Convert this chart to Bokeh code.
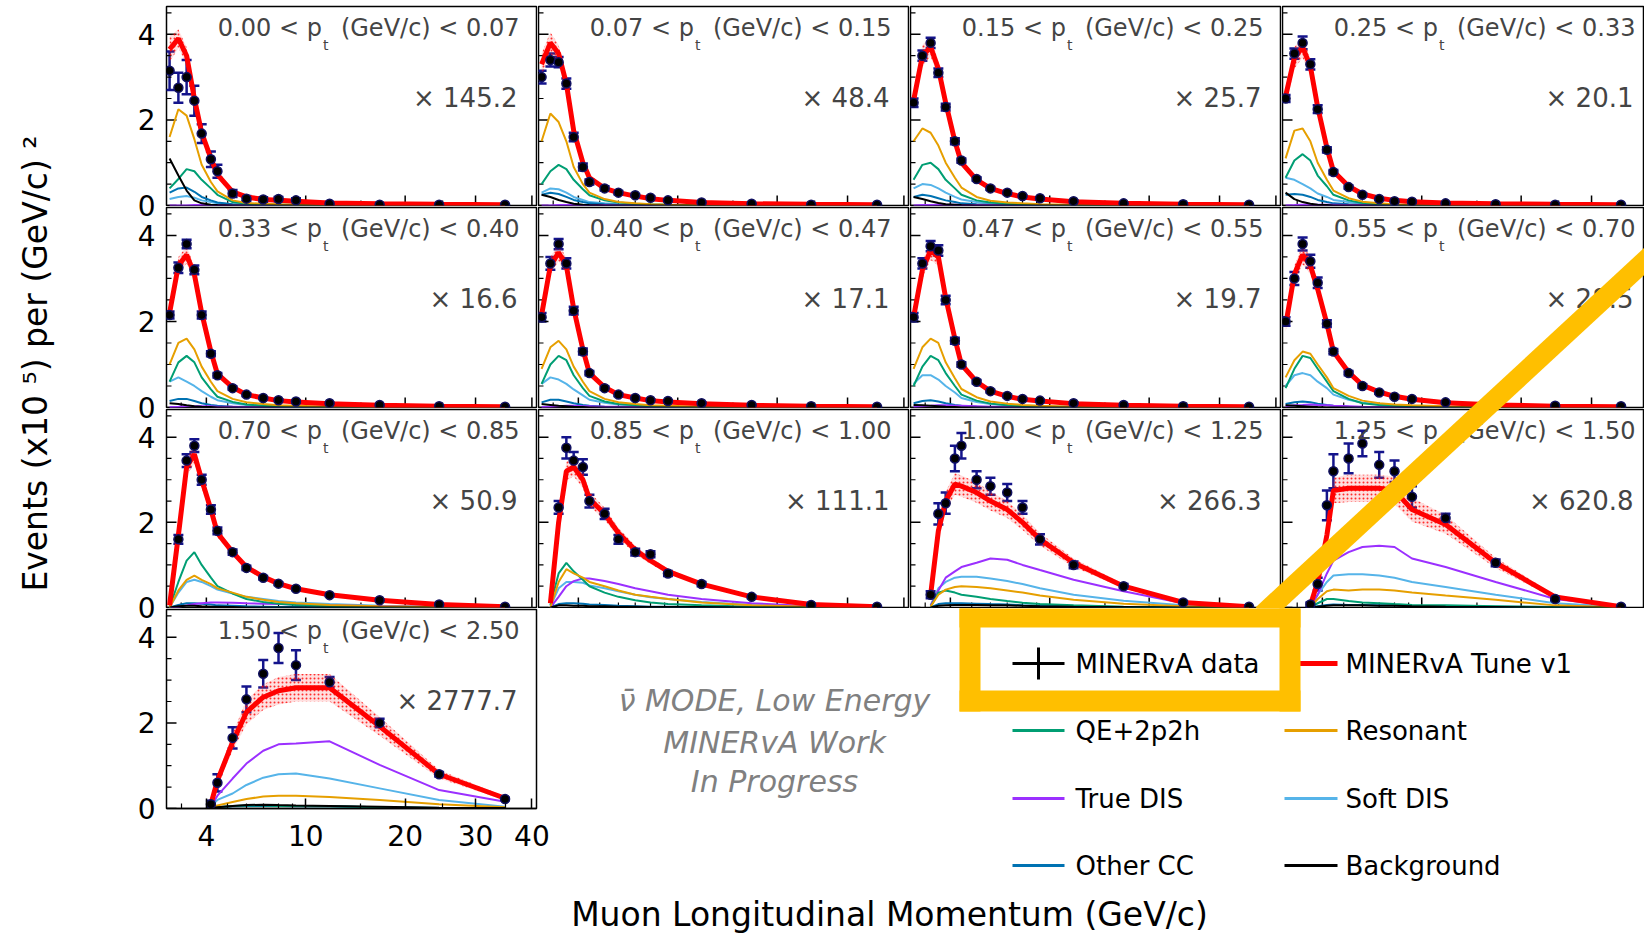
import math
import numpy as np
from bokeh.plotting import figure
from bokeh.layouts import row, column
from bokeh.models import (Range1d, FixedTicker, Label, Whisker, ColumnDataSource,
                          TeeHead, CustomJSTickFormatter)
from bokeh.embed import file_html
from bokeh.resources import INLINE

N = None
# ---------------- data ----------------
PZ_CENTERS = [2.6, 2.9, 3.2, 3.5, 3.8, 4.2, 4.5, 5.25, 6.0, 7.0, 8.0, 9.25, 12.0, 17.0, 24.5, 35.0]
X_TICKS = [4, 10, 20, 30, 40]
X_TICK_LABELS = ["4", "10", "20", "30", "40"]
X_MINOR = [3, 5, 6, 7, 8, 9, 15, 25, 35]
Y_TICKS = [0, 2, 4]
Y_TICK_LABELS = ["0", "2", "4"]
Y_MINOR = [0.5, 1, 1.5, 2.5, 3, 3.5, 4.5]
PZ_AXIS_MIN, PZ_AXIS_MAX = 2.5, 40.9
Y_MAX = 4.65

PT_LOW = ["0.00", "0.07", "0.15", "0.25", "0.33", "0.40", "0.47", "0.55", "0.70", "0.85", "1.00", "1.25", "1.50"]
PT_HIGH = ["0.07", "0.15", "0.25", "0.33", "0.40", "0.47", "0.55", "0.70", "0.85", "1.00", "1.25", "1.50", "2.50"]
SCALE_FACTORS = ["145.2", "48.4", "25.7", "20.1", "16.6", "17.1", "19.7", "28.5", "50.9", "111.1", "266.3", "620.8", "2777.7"]

DATA = [
    [3.15, 2.75, 3.0, 2.45, 1.68, 1.08, 0.8, 0.28, 0.16, 0.14, 0.15, 0.12, 0.04, 0.02, 0.02, 0.02],
    [3.0, 3.4, 3.35, 2.85, 1.6, 0.9, 0.55, 0.4, 0.3, 0.24, 0.18, 0.12, 0.07, 0.04, 0.02, 0.02],
    [2.4, 3.5, 3.8, 3.1, 2.3, 1.5, 1.05, 0.62, 0.4, 0.3, 0.22, 0.17, 0.1, 0.05, 0.03, 0.02],
    [2.5, 3.55, 3.8, 3.3, 2.25, 1.3, 0.78, 0.43, 0.25, 0.15, 0.1, 0.09, 0.05, 0.03, 0.02, 0.02],
    [2.15, 3.25, 3.8, 3.2, 2.15, 1.25, 0.75, 0.45, 0.3, 0.22, 0.17, 0.14, 0.1, 0.06, 0.03, 0.02],
    [2.1, 3.35, 3.8, 3.35, 2.25, 1.3, 0.8, 0.45, 0.3, 0.22, 0.17, 0.15, 0.1, 0.06, 0.03, 0.02],
    [2.1, 3.35, 3.75, 3.65, 2.5, 1.55, 1.0, 0.6, 0.38, 0.27, 0.2, 0.16, 0.1, 0.06, 0.03, 0.02],
    [2.0, 3.0, 3.8, 3.4, 2.9, 1.95, 1.3, 0.8, 0.5, 0.35, 0.25, 0.2, 0.12, 0.07, 0.04, 0.03],
    [N, 1.6, 3.45, 3.8, 3.0, 2.3, 1.8, 1.3, 0.93, 0.7, 0.56, 0.44, 0.29, 0.17, 0.07, 0.02],
    [N, N, 2.35, 3.75, 3.45, 3.3, 2.5, 2.2, 1.6, 1.3, 1.25, 0.8, 0.55, 0.25, 0.06, 0.02],
    [N, N, 0.3, 2.2, 2.45, 3.5, 3.8, 3.0, 2.85, 2.7, 2.35, 1.6, 1.0, 0.5, 0.12, 0.02],
    [N, N, N, 0.07, 0.55, 2.4, 3.2, 3.5, 3.85, 3.35, 3.2, 2.6, 2.1, 1.05, 0.2, 0.02],
    [N, N, N, N, N, 0.1, 0.6, 1.65, 2.55, 3.15, 3.75, 3.35, 2.95, 2.0, 0.8, 0.22],
]
DATA_ERR = [
    [0.45, 0.35, 0.4, 0.35, 0.22, 0.18, 0.15, 0.08, 0.06, 0.05, 0.05, 0.05, 0.02, 0.01, 0.01, 0.01],
    [0.15, 0.15, 0.12, 0.12, 0.1, 0.08, 0.06, 0.05, 0.04, 0.03, 0.03, 0.02, 0.02, 0.01, 0.01, 0.01],
    [0.1, 0.12, 0.12, 0.1, 0.08, 0.07, 0.05, 0.04, 0.03, 0.03, 0.02, 0.02, 0.02, 0.01, 0.01, 0.01],
    [0.08, 0.12, 0.15, 0.12, 0.09, 0.06, 0.05, 0.04, 0.03, 0.02, 0.02, 0.02, 0.01, 0.01, 0.01, 0.01],
    [0.08, 0.12, 0.1, 0.1, 0.08, 0.06, 0.05, 0.04, 0.03, 0.02, 0.02, 0.02, 0.01, 0.01, 0.01, 0.01],
    [0.1, 0.15, 0.12, 0.12, 0.09, 0.07, 0.05, 0.04, 0.03, 0.03, 0.02, 0.02, 0.02, 0.01, 0.01, 0.01],
    [0.1, 0.12, 0.12, 0.12, 0.1, 0.07, 0.05, 0.04, 0.03, 0.03, 0.02, 0.02, 0.02, 0.01, 0.01, 0.01],
    [0.1, 0.15, 0.15, 0.15, 0.12, 0.08, 0.06, 0.05, 0.04, 0.03, 0.03, 0.02, 0.02, 0.01, 0.01, 0.01],
    [N, 0.1, 0.15, 0.15, 0.12, 0.1, 0.08, 0.06, 0.05, 0.04, 0.03, 0.03, 0.02, 0.02, 0.01, 0.01],
    [N, N, 0.15, 0.25, 0.2, 0.18, 0.15, 0.12, 0.1, 0.08, 0.07, 0.06, 0.05, 0.03, 0.02, 0.01],
    [N, N, 0.08, 0.25, 0.25, 0.3, 0.3, 0.2, 0.2, 0.2, 0.15, 0.12, 0.08, 0.05, 0.03, 0.01],
    [N, N, N, 0.05, 0.15, 0.35, 0.4, 0.35, 0.3, 0.3, 0.25, 0.25, 0.1, 0.08, 0.05, 0.02],
    [N, N, N, N, N, 0.08, 0.2, 0.25, 0.3, 0.32, 0.35, 0.35, 0.12, 0.1, 0.05, 0.03],
]
TUNE = [
    [3.65, 3.9, 3.5, 2.5, 1.7, 1.1, 0.72, 0.32, 0.2, 0.14, 0.12, 0.1, 0.06, 0.04, 0.03, 0.02],
    [3.3, 3.8, 3.55, 2.85, 1.75, 1.0, 0.65, 0.4, 0.3, 0.22, 0.16, 0.12, 0.07, 0.04, 0.03, 0.02],
    [2.45, 3.5, 3.7, 3.2, 2.4, 1.5, 1.0, 0.6, 0.4, 0.28, 0.2, 0.15, 0.09, 0.05, 0.03, 0.02],
    [2.55, 3.45, 3.7, 3.25, 2.3, 1.35, 0.8, 0.45, 0.27, 0.17, 0.12, 0.09, 0.06, 0.04, 0.03, 0.02],
    [2.2, 3.3, 3.55, 3.1, 2.2, 1.3, 0.78, 0.47, 0.3, 0.22, 0.16, 0.13, 0.09, 0.05, 0.03, 0.02],
    [2.15, 3.3, 3.6, 3.3, 2.3, 1.35, 0.8, 0.47, 0.3, 0.22, 0.16, 0.13, 0.09, 0.05, 0.03, 0.02],
    [2.1, 3.2, 3.65, 3.5, 2.55, 1.6, 1.0, 0.6, 0.38, 0.26, 0.19, 0.15, 0.09, 0.05, 0.03, 0.02],
    [1.9, 3.1, 3.55, 3.3, 2.75, 1.95, 1.3, 0.82, 0.52, 0.36, 0.26, 0.19, 0.11, 0.06, 0.03, 0.02],
    [0.05, 1.7, 3.3, 3.6, 3.0, 2.3, 1.75, 1.3, 0.95, 0.72, 0.56, 0.44, 0.3, 0.17, 0.07, 0.02],
    [N, 0.1, 2.0, 3.2, 3.3, 3.0, 2.55, 2.2, 1.75, 1.35, 1.1, 0.85, 0.55, 0.25, 0.07, 0.02],
    [N, N, 0.3, 1.8, 2.5, 2.9, 2.85, 2.7, 2.5, 2.3, 2.0, 1.6, 1.05, 0.5, 0.12, 0.02],
    [N, N, N, 0.05, 0.6, 1.7, 2.75, 2.8, 2.8, 2.8, 2.75, 2.3, 1.95, 1.05, 0.25, 0.02],
    [N, N, N, N, N, 0.1, 0.65, 1.55, 2.25, 2.6, 2.75, 2.82, 2.82, 1.92, 0.8, 0.24],
]
TUNE_BAND = [
    [0.3, 0.22, 0.2, 0.15, 0.1, 0.07, 0.05, 0.03, 0.02, 0.02, 0.02, 0.01, 0.01, 0.01, 0.01, 0.01],
    [0.25, 0.25, 0.2, 0.15, 0.1, 0.07, 0.05, 0.03, 0.02, 0.02, 0.02, 0.01, 0.01, 0.01, 0.01, 0.01],
    [0.2, 0.25, 0.22, 0.18, 0.12, 0.08, 0.05, 0.04, 0.03, 0.02, 0.02, 0.01, 0.01, 0.01, 0.01, 0.01],
    [0.2, 0.25, 0.25, 0.18, 0.12, 0.08, 0.05, 0.03, 0.02, 0.02, 0.01, 0.01, 0.01, 0.01, 0.01, 0.01],
    [0.15, 0.2, 0.2, 0.18, 0.12, 0.08, 0.05, 0.03, 0.02, 0.02, 0.01, 0.01, 0.01, 0.01, 0.01, 0.01],
    [0.15, 0.2, 0.2, 0.18, 0.12, 0.08, 0.05, 0.03, 0.02, 0.02, 0.01, 0.01, 0.01, 0.01, 0.01, 0.01],
    [0.15, 0.2, 0.22, 0.2, 0.14, 0.09, 0.06, 0.04, 0.03, 0.02, 0.02, 0.01, 0.01, 0.01, 0.01, 0.01],
    [0.15, 0.2, 0.22, 0.2, 0.16, 0.11, 0.08, 0.05, 0.03, 0.02, 0.02, 0.02, 0.01, 0.01, 0.01, 0.01],
    [0.01, 0.12, 0.2, 0.22, 0.18, 0.14, 0.1, 0.08, 0.06, 0.05, 0.04, 0.03, 0.02, 0.01, 0.01, 0.01],
    [N, 0.02, 0.15, 0.22, 0.22, 0.2, 0.17, 0.14, 0.12, 0.1, 0.08, 0.06, 0.04, 0.02, 0.01, 0.01],
    [N, N, 0.03, 0.15, 0.22, 0.25, 0.25, 0.24, 0.22, 0.2, 0.18, 0.15, 0.1, 0.05, 0.02, 0.01],
    [N, N, N, 0.02, 0.08, 0.2, 0.3, 0.32, 0.32, 0.32, 0.32, 0.28, 0.22, 0.12, 0.04, 0.01],
    [N, N, N, N, N, 0.02, 0.1, 0.2, 0.28, 0.3, 0.32, 0.32, 0.32, 0.22, 0.1, 0.04],
]
QE_2P2H = [
    [0.4, 0.62, 0.85, 0.8, 0.6, 0.4, 0.25, 0.08, 0.04, 0.03, 0.02, 0.02, 0.01, 0.0, 0.0, 0.0],
    [0.5, 0.8, 0.95, 0.85, 0.6, 0.38, 0.24, 0.12, 0.07, 0.04, 0.03, 0.02, 0.01, 0.0, 0.0, 0.0],
    [0.6, 0.95, 1.0, 0.85, 0.6, 0.4, 0.25, 0.12, 0.07, 0.04, 0.03, 0.02, 0.01, 0.0, 0.0, 0.0],
    [0.65, 1.05, 1.2, 1.05, 0.7, 0.45, 0.25, 0.12, 0.06, 0.03, 0.02, 0.01, 0.01, 0.0, 0.0, 0.0],
    [0.6, 1.05, 1.2, 1.05, 0.7, 0.42, 0.25, 0.13, 0.07, 0.04, 0.03, 0.02, 0.01, 0.0, 0.0, 0.0],
    [0.55, 1.0, 1.2, 1.1, 0.75, 0.45, 0.27, 0.14, 0.08, 0.05, 0.03, 0.02, 0.01, 0.0, 0.0, 0.0],
    [0.5, 0.95, 1.2, 1.1, 0.8, 0.5, 0.3, 0.16, 0.09, 0.05, 0.03, 0.02, 0.01, 0.0, 0.0, 0.0],
    [0.45, 0.9, 1.2, 1.15, 0.9, 0.6, 0.38, 0.2, 0.1, 0.06, 0.04, 0.03, 0.01, 0.0, 0.0, 0.0],
    [0.0, 0.6, 1.1, 1.3, 1.0, 0.7, 0.5, 0.33, 0.2, 0.13, 0.09, 0.06, 0.03, 0.01, 0.0, 0.0],
    [N, 0.05, 0.8, 1.05, 0.85, 0.65, 0.5, 0.35, 0.25, 0.17, 0.12, 0.08, 0.05, 0.02, 0.0, 0.0],
    [N, N, 0.02, 0.35, 0.4, 0.35, 0.3, 0.25, 0.2, 0.15, 0.11, 0.08, 0.05, 0.02, 0.01, 0.0],
    [N, N, N, 0.01, 0.1, 0.2, 0.2, 0.15, 0.12, 0.1, 0.08, 0.06, 0.05, 0.03, 0.01, 0.0],
    [N, N, N, N, N, 0.01, 0.03, 0.06, 0.07, 0.07, 0.06, 0.06, 0.05, 0.03, 0.01, 0.0],
]
RESONANT = [
    [1.6, 2.25, 2.1, 1.55, 0.95, 0.55, 0.33, 0.12, 0.06, 0.04, 0.03, 0.02, 0.01, 0.0, 0.0, 0.0],
    [1.5, 2.15, 1.95, 1.5, 0.9, 0.5, 0.3, 0.15, 0.08, 0.05, 0.03, 0.02, 0.01, 0.0, 0.0, 0.0],
    [1.5, 1.8, 1.7, 1.4, 1.0, 0.65, 0.42, 0.2, 0.11, 0.07, 0.05, 0.03, 0.02, 0.01, 0.0, 0.0],
    [1.1, 1.75, 1.8, 1.5, 1.0, 0.6, 0.35, 0.17, 0.09, 0.05, 0.03, 0.02, 0.01, 0.0, 0.0, 0.0],
    [1.0, 1.5, 1.6, 1.35, 0.95, 0.6, 0.38, 0.2, 0.12, 0.08, 0.05, 0.04, 0.02, 0.01, 0.0, 0.0],
    [0.9, 1.4, 1.55, 1.35, 0.95, 0.6, 0.38, 0.2, 0.12, 0.08, 0.05, 0.04, 0.02, 0.01, 0.0, 0.0],
    [0.9, 1.4, 1.6, 1.5, 1.05, 0.68, 0.43, 0.24, 0.14, 0.09, 0.06, 0.04, 0.02, 0.01, 0.0, 0.0],
    [0.7, 1.1, 1.3, 1.25, 1.0, 0.7, 0.45, 0.27, 0.16, 0.1, 0.07, 0.05, 0.03, 0.01, 0.0, 0.0],
    [0.0, 0.4, 0.65, 0.75, 0.65, 0.55, 0.45, 0.35, 0.25, 0.18, 0.13, 0.1, 0.06, 0.03, 0.01, 0.0],
    [N, 0.0, 0.6, 0.9, 0.8, 0.7, 0.6, 0.5, 0.4, 0.3, 0.25, 0.2, 0.12, 0.05, 0.02, 0.0],
    [N, N, 0.02, 0.3, 0.42, 0.48, 0.5, 0.48, 0.45, 0.4, 0.35, 0.28, 0.18, 0.09, 0.03, 0.0],
    [N, N, N, 0.01, 0.2, 0.38, 0.42, 0.4, 0.42, 0.42, 0.4, 0.35, 0.28, 0.18, 0.05, 0.0],
    [N, N, N, N, N, 0.02, 0.07, 0.15, 0.22, 0.28, 0.3, 0.3, 0.27, 0.2, 0.1, 0.03],
]
TRUE_DIS = [
    [0.0, 0.0, 0.0, 0.01, 0.01, 0.01, 0.01, 0.0, 0.0, 0.0, 0.0, 0.0, 0.0, 0.0, 0.0, 0.0],
    [0.0, 0.0, 0.01, 0.01, 0.01, 0.01, 0.01, 0.01, 0.0, 0.0, 0.0, 0.0, 0.0, 0.0, 0.0, 0.0],
    [0.0, 0.01, 0.01, 0.02, 0.02, 0.02, 0.01, 0.01, 0.01, 0.0, 0.0, 0.0, 0.0, 0.0, 0.0, 0.0],
    [0.0, 0.01, 0.02, 0.02, 0.02, 0.02, 0.02, 0.01, 0.01, 0.01, 0.0, 0.0, 0.0, 0.0, 0.0, 0.0],
    [0.01, 0.02, 0.03, 0.03, 0.03, 0.03, 0.02, 0.02, 0.01, 0.01, 0.01, 0.0, 0.0, 0.0, 0.0, 0.0],
    [0.01, 0.02, 0.03, 0.04, 0.04, 0.03, 0.03, 0.02, 0.02, 0.01, 0.01, 0.01, 0.0, 0.0, 0.0, 0.0],
    [0.02, 0.03, 0.04, 0.05, 0.05, 0.04, 0.04, 0.03, 0.02, 0.02, 0.01, 0.01, 0.01, 0.0, 0.0, 0.0],
    [0.03, 0.05, 0.06, 0.07, 0.06, 0.05, 0.04, 0.03, 0.02, 0.01, 0.01, 0.01, 0.0, 0.0, 0.0, 0.0],
    [0.0, 0.02, 0.05, 0.08, 0.1, 0.12, 0.12, 0.11, 0.1, 0.09, 0.08, 0.07, 0.05, 0.03, 0.01, 0.0],
    [N, 0.0, 0.25, 0.5, 0.62, 0.68, 0.68, 0.62, 0.55, 0.45, 0.38, 0.3, 0.2, 0.1, 0.03, 0.0],
    [N, N, 0.05, 0.4, 0.7, 0.85, 0.95, 1.05, 1.15, 1.12, 1.0, 0.88, 0.65, 0.38, 0.1, 0.01],
    [N, N, N, 0.02, 0.3, 0.8, 1.1, 1.3, 1.42, 1.45, 1.42, 1.15, 0.95, 0.6, 0.2, 0.02],
    [N, N, N, N, N, 0.05, 0.3, 0.7, 1.05, 1.35, 1.5, 1.52, 1.57, 1.02, 0.43, 0.16],
]
SOFT_DIS = [
    [0.15, 0.2, 0.22, 0.18, 0.12, 0.08, 0.05, 0.03, 0.02, 0.01, 0.01, 0.01, 0.0, 0.0, 0.0, 0.0],
    [0.3, 0.4, 0.38, 0.3, 0.2, 0.13, 0.08, 0.05, 0.03, 0.02, 0.01, 0.01, 0.0, 0.0, 0.0, 0.0],
    [0.4, 0.5, 0.48, 0.4, 0.3, 0.2, 0.14, 0.08, 0.05, 0.03, 0.02, 0.01, 0.01, 0.0, 0.0, 0.0],
    [0.65, 0.6, 0.5, 0.4, 0.28, 0.2, 0.13, 0.08, 0.05, 0.03, 0.02, 0.01, 0.01, 0.0, 0.0, 0.0],
    [0.6, 0.7, 0.6, 0.5, 0.38, 0.25, 0.17, 0.1, 0.06, 0.04, 0.03, 0.02, 0.01, 0.01, 0.0, 0.0],
    [0.55, 0.7, 0.65, 0.55, 0.42, 0.28, 0.18, 0.11, 0.07, 0.05, 0.03, 0.02, 0.01, 0.01, 0.0, 0.0],
    [0.55, 0.75, 0.75, 0.65, 0.5, 0.35, 0.22, 0.13, 0.08, 0.05, 0.04, 0.03, 0.02, 0.01, 0.0, 0.0],
    [0.5, 0.75, 0.8, 0.75, 0.6, 0.45, 0.3, 0.18, 0.11, 0.07, 0.05, 0.04, 0.02, 0.01, 0.0, 0.0],
    [0.0, 0.35, 0.6, 0.65, 0.6, 0.5, 0.42, 0.33, 0.25, 0.2, 0.15, 0.12, 0.08, 0.04, 0.02, 0.0],
    [N, 0.02, 0.45, 0.6, 0.6, 0.58, 0.52, 0.45, 0.38, 0.3, 0.24, 0.2, 0.13, 0.06, 0.02, 0.0],
    [N, N, 0.05, 0.45, 0.6, 0.7, 0.72, 0.72, 0.68, 0.62, 0.55, 0.45, 0.3, 0.16, 0.05, 0.01],
    [N, N, N, 0.02, 0.3, 0.6, 0.75, 0.78, 0.78, 0.75, 0.7, 0.6, 0.48, 0.3, 0.1, 0.01],
    [N, N, N, N, N, 0.05, 0.2, 0.35, 0.55, 0.72, 0.8, 0.82, 0.7, 0.47, 0.2, 0.04],
]
OTHER_CC = [
    [0.3, 0.4, 0.42, 0.32, 0.2, 0.12, 0.07, 0.03, 0.02, 0.01, 0.01, 0.01, 0.0, 0.0, 0.0, 0.0],
    [0.25, 0.3, 0.27, 0.2, 0.13, 0.08, 0.05, 0.03, 0.02, 0.01, 0.01, 0.0, 0.0, 0.0, 0.0, 0.0],
    [0.2, 0.25, 0.22, 0.17, 0.12, 0.08, 0.05, 0.03, 0.02, 0.01, 0.01, 0.0, 0.0, 0.0, 0.0, 0.0],
    [0.25, 0.27, 0.25, 0.2, 0.13, 0.08, 0.05, 0.03, 0.02, 0.01, 0.01, 0.0, 0.0, 0.0, 0.0, 0.0],
    [0.15, 0.2, 0.2, 0.15, 0.1, 0.06, 0.04, 0.02, 0.01, 0.01, 0.0, 0.0, 0.0, 0.0, 0.0, 0.0],
    [0.12, 0.18, 0.18, 0.14, 0.1, 0.06, 0.04, 0.02, 0.01, 0.01, 0.0, 0.0, 0.0, 0.0, 0.0, 0.0],
    [0.1, 0.15, 0.17, 0.14, 0.1, 0.06, 0.04, 0.02, 0.01, 0.01, 0.0, 0.0, 0.0, 0.0, 0.0, 0.0],
    [0.08, 0.12, 0.14, 0.12, 0.09, 0.06, 0.04, 0.02, 0.01, 0.01, 0.0, 0.0, 0.0, 0.0, 0.0, 0.0],
    [0.0, 0.06, 0.1, 0.1, 0.09, 0.07, 0.05, 0.04, 0.03, 0.02, 0.01, 0.01, 0.0, 0.0, 0.0, 0.0],
    [N, 0.0, 0.08, 0.1, 0.1, 0.09, 0.07, 0.06, 0.04, 0.03, 0.02, 0.02, 0.01, 0.0, 0.0, 0.0],
    [N, N, 0.0, 0.08, 0.1, 0.1, 0.1, 0.09, 0.08, 0.07, 0.05, 0.04, 0.03, 0.01, 0.0, 0.0],
    [N, N, N, 0.0, 0.03, 0.06, 0.07, 0.06, 0.06, 0.05, 0.05, 0.04, 0.03, 0.02, 0.01, 0.0],
    [N, N, N, N, N, 0.01, 0.03, 0.05, 0.06, 0.06, 0.06, 0.05, 0.05, 0.03, 0.01, 0.0],
]
BACKGROUND = [
    [1.1, 0.7, 0.35, 0.12, 0.05, 0.02, 0.01, 0.0, 0.0, 0.0, 0.0, 0.0, 0.0, 0.0, 0.0, 0.0],
    [0.25, 0.2, 0.13, 0.08, 0.04, 0.02, 0.01, 0.0, 0.0, 0.0, 0.0, 0.0, 0.0, 0.0, 0.0, 0.0],
    [0.2, 0.15, 0.1, 0.06, 0.03, 0.02, 0.01, 0.0, 0.0, 0.0, 0.0, 0.0, 0.0, 0.0, 0.0, 0.0],
    [0.3, 0.15, 0.08, 0.04, 0.02, 0.01, 0.0, 0.0, 0.0, 0.0, 0.0, 0.0, 0.0, 0.0, 0.0, 0.0],
    [0.1, 0.08, 0.05, 0.03, 0.02, 0.01, 0.0, 0.0, 0.0, 0.0, 0.0, 0.0, 0.0, 0.0, 0.0, 0.0],
    [0.08, 0.06, 0.04, 0.03, 0.02, 0.01, 0.0, 0.0, 0.0, 0.0, 0.0, 0.0, 0.0, 0.0, 0.0, 0.0],
    [0.06, 0.05, 0.04, 0.03, 0.02, 0.01, 0.0, 0.0, 0.0, 0.0, 0.0, 0.0, 0.0, 0.0, 0.0, 0.0],
    [0.05, 0.04, 0.03, 0.02, 0.01, 0.0, 0.0, 0.0, 0.0, 0.0, 0.0, 0.0, 0.0, 0.0, 0.0, 0.0],
    [0.0, 0.03, 0.04, 0.04, 0.03, 0.02, 0.02, 0.01, 0.0, 0.0, 0.0, 0.0, 0.0, 0.0, 0.0, 0.0],
    [N, 0.0, 0.05, 0.05, 0.04, 0.04, 0.03, 0.03, 0.02, 0.02, 0.01, 0.01, 0.01, 0.0, 0.0, 0.0],
    [N, N, 0.0, 0.04, 0.05, 0.06, 0.06, 0.06, 0.05, 0.05, 0.04, 0.03, 0.02, 0.01, 0.0, 0.0],
    [N, N, N, 0.0, 0.02, 0.04, 0.05, 0.05, 0.05, 0.04, 0.04, 0.03, 0.02, 0.01, 0.0, 0.0],
    [N, N, N, N, N, 0.01, 0.03, 0.06, 0.08, 0.09, 0.08, 0.07, 0.06, 0.04, 0.02, 0.01],
]

LEGEND_LABELS = ["MINERvA data", "MINERvA Tune v1", "QE+2p2h", "Resonant",
                 "True DIS", "Soft DIS", "Other CC", "Background"]
ANNOT_LINES = ["\u03bd\u0304 MODE, Low Energy", "MINERvA Work", "In Progress"]
X_TITLE = "Muon Longitudinal Momentum (GeV/c)"
Y_TITLE = "Events (x10 \u2075) per (GeV/c) \u00b2"

# ---------------- styles ----------------
FONT = "DejaVu Sans"
C_QE, C_RES, C_TDIS, C_SDIS, C_OCC, C_BKG = "#009e73", "#e69f00", "#9b30ff", "#56b4e9", "#0072b2", "#000000"
C_TUNE = "#ff0000"
C_ERR = "#14148c"
C_ORANGE = "#ffbf00"
COMPONENTS = [(SOFT_DIS, C_SDIS), (OTHER_CC, C_OCC), (TRUE_DIS, C_TDIS),
              (QE_2P2H, C_QE), (RESONANT, C_RES), (BACKGROUND, C_BKG)]

AXIS_POWER = 0.35


def xmap(v):
    return np.asarray(v, dtype=float) ** AXIS_POWER


U0 = float(xmap(PZ_AXIS_MIN))
U1 = float(xmap(PZ_AXIS_MAX))

# page layout (pixels)
LEFT_W = 160
COL_FRAME_LEFT = [166, 538, 910, 1282]
COL_FRAME_W = [370, 370, 370, 362]
COL_BORDER_L = [6, 1, 1, 1]
COL_BORDER_R = [1, 1, 1, 0]
ROW_FRAME_TOP = [6, 207, 409, 609]
ROW_FRAME_H = [199, 200, 198, 199]
ROW_BORDER_T = [6, 1, 1, 1]
ROW_BORDER_B = [1, 1, 1, 127]
FULL_FW = 370
BIG_LEFT, BIG_TOP = 557, 608
ORANGE_LINE = [(1262, 614), (1662, 244)]
MAJOR_LEN, MINOR_LEN = 10, 5

ADV = {'0': .636, '1': .636, '2': .636, '3': .636, '4': .636, '5': .636, '6': .636, '7': .636,
       '8': .636, '9': .636, '.': .318, ' ': .318, '<': .838, 'p': .635, '(': .390, ')': .390,
       'G': .776, 'e': .615, 'V': .684, '/': .337, 'c': .550, 't': .392}


def text_w(s, size):
    return sum(ADV.get(ch, .6) for ch in s) * size


def arr(lst):
    return np.array([np.nan if v is None else v for v in lst], dtype=float)


def style_fig(p):
    p.background_fill_color = "white"
    p.border_fill_color = "white"
    p.frame_align = False
    if p.xgrid:
        p.xgrid.visible = False
    if p.ygrid:
        p.ygrid.visible = False


def make_panel(k):
    r, c = divmod(k, 4)
    fl, fw = COL_FRAME_LEFT[c], COL_FRAME_W[c]
    ft, fh = ROW_FRAME_TOP[r], ROW_FRAME_H[r]
    bl, br = COL_BORDER_L[c], COL_BORDER_R[c]
    bt, bb = ROW_BORDER_T[r], ROW_BORDER_B[r]
    labeled_x = (r == 3 and c == 0)
    if labeled_x:
        br = 21
    u_end = U0 + (U1 - U0) * fw / FULL_FW
    p = figure(width=bl + fw + br, height=bt + fh + bb,
               x_range=Range1d(U0, u_end), y_range=Range1d(0, Y_MAX),
               min_border_left=bl, min_border_right=br, min_border_top=bt, min_border_bottom=bb,
               output_backend="svg", toolbar_location=None, tools="",
               x_axis_location="below" if labeled_x else None, y_axis_location=None)
    style_fig(p)
    p.outline_line_color = "black"
    p.outline_line_width = 1.5

    def px(X):
        return U0 + (X - fl) / FULL_FW * (U1 - U0)

    def py(Y):
        return (ft + fh - Y) / fh * Y_MAX

    dy_major = MAJOR_LEN / fh * Y_MAX
    dy_minor = MINOR_LEN / fh * Y_MAX
    dx_major = MAJOR_LEN / FULL_FW * (U1 - U0)
    dx_minor = MINOR_LEN / FULL_FW * (U1 - U0)

    if labeled_x:
        xa = p.xaxis[0]
        xa.ticker = FixedTicker(ticks=list(xmap(X_TICKS)), minor_ticks=list(xmap(X_MINOR)))
        xa.axis_line_width = 1.5
        xa.major_tick_line_width = 1.5
        xa.minor_tick_line_width = 1.2
        xa.major_tick_in = MAJOR_LEN
        xa.major_tick_out = 0
        xa.minor_tick_in = MINOR_LEN
        xa.minor_tick_out = 0
        xa.major_label_text_font = FONT
        xa.major_label_text_color = "black"
        xa.formatter = CustomJSTickFormatter(
            args=dict(vals=list(xmap(X_TICKS)), labs=X_TICK_LABELS),
            code="for (let i = 0; i < vals.length; i++) { if (Math.abs(vals[i] - tick) < 1e-6) return labs[i]; } return '';")
        xa.major_label_text_font_size = "28px"
        xa.major_label_standoff = 16
    else:
        xt = xmap(X_TICKS)
        xm = xmap(X_MINOR)
        p.segment(x0=xt, y0=0, x1=xt, y1=dy_major, line_color="black", line_width=1.5)
        p.segment(x0=xm, y0=0, x1=xm, y1=dy_minor, line_color="black", line_width=1.2)
    yt = np.array(Y_TICKS, dtype=float)
    ym = np.array(Y_MINOR, dtype=float)
    p.segment(x0=U0, y0=yt, x1=U0 + dx_major, y1=yt, line_color="black", line_width=1.5)
    p.segment(x0=U0, y0=ym, x1=U0 + dx_minor, y1=ym, line_color="black", line_width=1.2)

    x = xmap(PZ_CENTERS)
    tune = arr(TUNE[k])
    band = arr(TUNE_BAND[k])
    ok = ~np.isnan(tune)
    p.varea(x=x[ok], y1=(tune - band)[ok], y2=(tune + band)[ok],
            fill_color="#ff4d4d", fill_alpha=0.18,
            hatch_pattern="dot", hatch_color="#ff0000", hatch_alpha=0.8,
            hatch_scale=4, hatch_weight=1.3)
    for vals, col in COMPONENTS:
        p.line(x, arr(vals[k]), line_color=col, line_width=2)
    p.line(x, tune, line_color=C_TUNE, line_width=5)

    d = arr(DATA[k])
    e = arr(DATA_ERR[k])
    okd = ~np.isnan(d)
    src = ColumnDataSource(dict(x=x[okd], y=d[okd], lo=(d - e)[okd], hi=(d + e)[okd]))
    w = Whisker(source=src, base="x", upper="hi", lower="lo", dimension="height",
                line_color=C_ERR, line_width=2.5,
                upper_head=TeeHead(size=10, line_color=C_ERR, line_width=2.5),
                lower_head=TeeHead(size=10, line_color=C_ERR, line_width=2.5))
    p.add_layout(w)
    p.scatter("x", "y", source=src, marker="circle", size=9,
              fill_color="black", line_color="#101060", line_width=1.5)

    # title: "a < p_t (GeV/c) < b", right aligned
    fs = 24
    x_right = fl + FULL_FW - 17
    y_mid = ft + 21
    part1 = PT_LOW[k] + " < p"
    part3 = "(GeV/c) < " + PT_HIGH[k]
    start3 = x_right - text_w(part3, fs)
    p_end = start3 - 19
    p.add_layout(Label(x=px(x_right), y=py(y_mid), text=part3, text_align="right",
                       text_baseline="middle", text_font=FONT, text_font_size=f"{fs}px"))
    p.add_layout(Label(x=px(p_end + 1), y=py(y_mid + 17), text="t", text_align="left",
                       text_baseline="middle", text_font=FONT, text_font_size="14px"))
    p.add_layout(Label(x=px(p_end), y=py(y_mid), text=part1, text_align="right",
                       text_baseline="middle", text_font=FONT, text_font_size=f"{fs}px"))
    p.add_layout(Label(x=px(fl + FULL_FW - 19), y=py(ft + 91), text="\u00d7 " + SCALE_FACTORS[k],
                       text_align="right", text_baseline="middle", text_font=FONT,
                       text_font_size="26px"))

    if k in (6, 7, 10, 11):
        (X0, Y0), (X1, Y1) = ORANGE_LINE
        rr = p.line([px(X0), px(X1)], [py(Y0), py(Y1)], line_color=C_ORANGE, line_width=20)
        rr.level = "overlay"
    return p


panels = [make_panel(k) for k in range(13)]

# ---------- big decoration canvas (row 4, cols 2-4) ----------
BW, BH = 1644 - BIG_LEFT, 935 - BIG_TOP
big = figure(width=BW, height=BH, x_range=Range1d(0, BW), y_range=Range1d(0, BH),
             min_border_left=0, min_border_right=0, min_border_top=0, min_border_bottom=0,
             output_backend="svg", toolbar_location=None, tools="",
             x_axis_location=None, y_axis_location=None)
style_fig(big)
big.outline_line_color = None


def bx(X):
    return X - BIG_LEFT


def by(Y):
    return 935 - Y


# legend
LEG_LINE_X = [(1012, 1064), (1284, 1337)]
LEG_TEXT_X = [1075, 1345]
LEG_ROW_Y = [663, 730, 798, 865]
leg_colors = [None, C_TUNE, C_QE, C_RES, C_TDIS, C_SDIS, C_OCC, C_BKG]
for i, lab in enumerate(LEGEND_LABELS):
    rr_, cc_ = divmod(i, 2)
    Y = LEG_ROW_Y[rr_]
    x0, x1 = LEG_LINE_X[cc_]
    if i == 0:
        big.line([bx(x0), bx(x1)], [by(Y), by(Y)], line_color="black", line_width=3)
        big.line([bx((x0 + x1) / 2)] * 2, [by(Y - 16), by(Y + 16)], line_color="black", line_width=3)
    else:
        big.line([bx(x0), bx(x1)], [by(Y), by(Y)], line_color=leg_colors[i],
                 line_width=5 if i == 1 else 3)
    big.add_layout(Label(x=bx(LEG_TEXT_X[cc_]), y=by(Y), text=lab, text_align="left",
                         text_baseline="middle", text_font=FONT, text_font_size="26px",
                         text_color="black"))

# annotation text
for Y, t in zip([700, 742, 781], ANNOT_LINES):
    big.add_layout(Label(x=bx(774), y=by(Y), text=t, text_align="center", text_baseline="middle",
                         text_font=FONT, text_font_style="italic", text_font_size="30px",
                         text_color="#808080"))

# x axis title
big.add_layout(Label(x=bx(889), y=by(914), text=X_TITLE, text_align="center",
                     text_baseline="middle", text_font=FONT, text_font_size="33px",
                     text_color="black"))

# orange highlight box + pointer line
ox0, ox1, oy0, oy1 = 959, 1300, 606, 711
t_ = 21
bars = [(ox0, ox1, oy0, oy0 + t_), (ox0, ox1, oy1 - t_, oy1),
        (ox0, ox0 + t_, oy0, oy1), (ox1 - t_, ox1, oy0, oy1)]
big.quad(left=[bx(b[0]) for b in bars], right=[bx(b[1]) for b in bars],
         top=[by(b[2]) for b in bars], bottom=[by(b[3]) for b in bars],
         fill_color=C_ORANGE, line_color=None)
(X0, Y0), (X1, Y1) = ORANGE_LINE
big.line([bx(X0), bx(X1)], [by(Y0), by(Y1)], line_color=C_ORANGE, line_width=20)

# ---------- left canvas: y title + y tick labels ----------
ylab = figure(width=LEFT_W, height=935, x_range=Range1d(0, LEFT_W), y_range=Range1d(0, 935),
              min_border_left=0, min_border_right=0, min_border_top=0, min_border_bottom=0,
              output_backend="svg", toolbar_location=None, tools="",
              x_axis_location=None, y_axis_location=None)
style_fig(ylab)
ylab.outline_line_color = None
ylab.add_layout(Label(x=35, y=935 - 363, text=Y_TITLE, angle=math.pi / 2, text_align="center",
                      text_baseline="middle", text_font=FONT, text_font_size="33px",
                      text_color="black"))
for r in range(4):
    ft, fh = ROW_FRAME_TOP[r], ROW_FRAME_H[r]
    for v, lab in zip(Y_TICKS, Y_TICK_LABELS):
        Yp = ft + fh - v / Y_MAX * fh
        ylab.add_layout(Label(x=155, y=935 - Yp, text=lab, text_align="right",
                              text_baseline="middle", text_font=FONT, text_font_size="28px",
                              text_color="black"))

rows = [row(panels[0:4], spacing=0), row(panels[4:8], spacing=0),
        row(panels[8:12], spacing=0), row([panels[12], big], spacing=0)]
layout = row([ylab, column(rows, spacing=0)], spacing=0)

open("out.html", "w").write(file_html(layout, INLINE))
